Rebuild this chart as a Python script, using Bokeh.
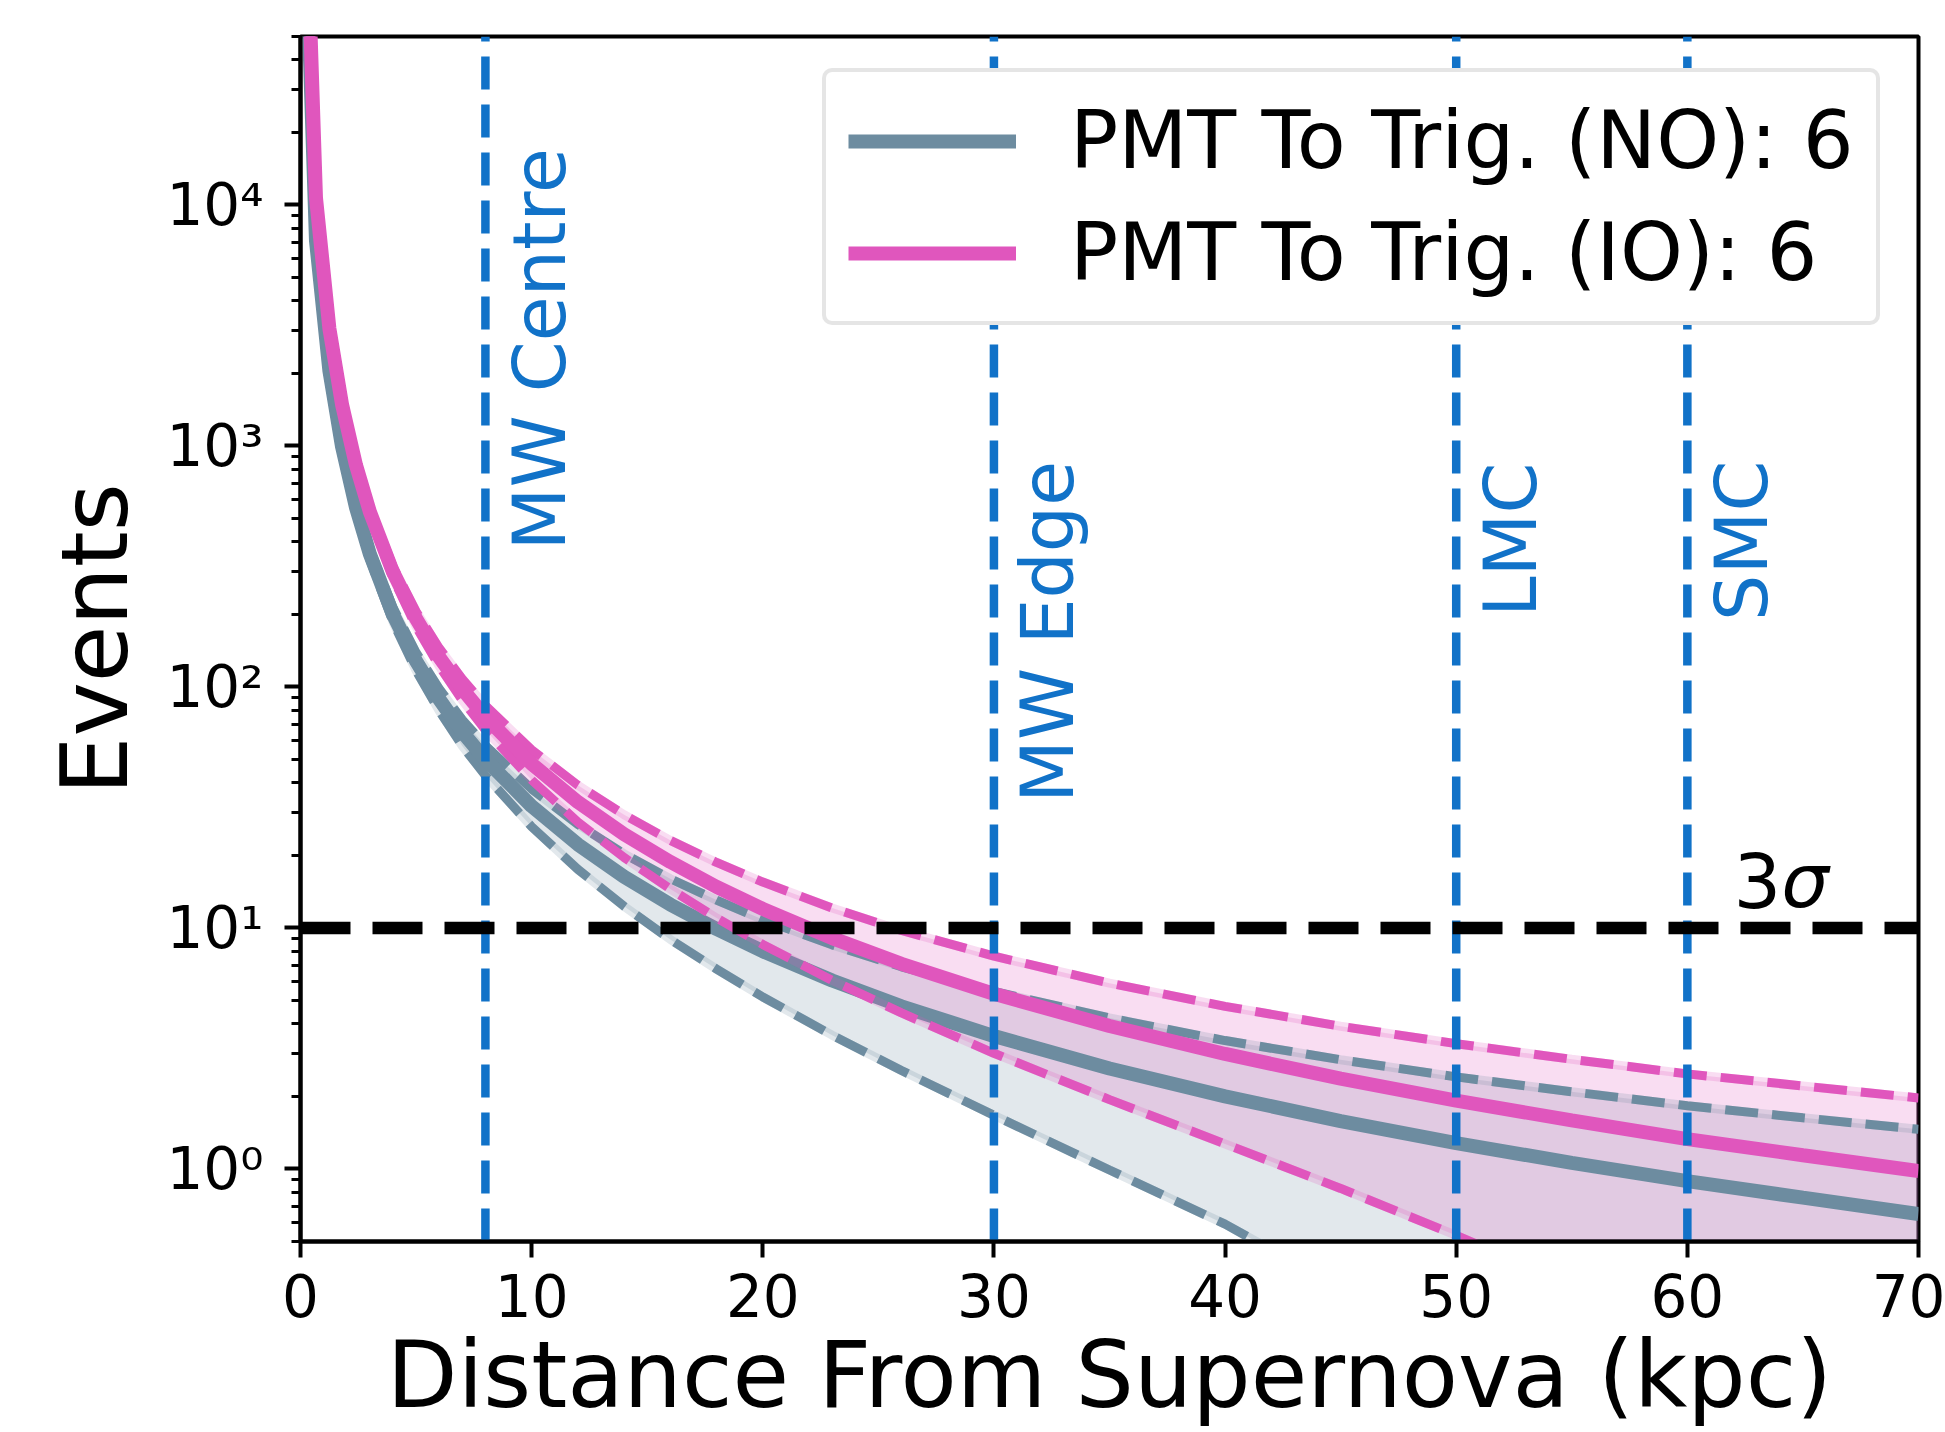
import numpy as np
from bokeh.plotting import figure
from bokeh.models import (Range1d, FixedTicker, CustomJSTickFormatter, Legend, LegendItem,
                          ColumnDataSource)
from bokeh.embed import file_html
from bokeh.resources import INLINE
from bokeh.core.properties import value

# ---------------- data ----------------
distance_kpc = [0.1, 0.67, 1.25, 1.8, 2.4, 3, 4, 5, 6, 7, 8, 10, 12, 14, 16, 18, 20,
                23, 26, 30, 35, 40, 45, 50, 55, 60, 65, 70]

events_no = [320000, 7100, 2050, 990, 556, 356, 200, 128, 89, 65, 50, 32, 22.2, 16.3,
             12.5, 9.9, 8.0, 6.05, 4.73, 3.56, 2.61, 2.00, 1.58, 1.28, 1.06, 0.89, 0.76, 0.65]
events_no_upper = [320566, 7184, 2095, 1021, 580, 375, 214, 139, 98.4, 73.1, 57.1, 37.7,
                   26.9, 20.3, 16.0, 13.05, 10.83, 8.51, 6.90, 5.45, 4.23, 3.41, 2.84,
                   2.41, 2.09, 1.83, 1.63, 1.46]
events_no_lower = [319434, 7016, 2005, 958, 532, 337, 186, 117, 79.6, 56.9, 42.9, 26.3,
                   17.5, 12.3, 8.96, 6.75, 5.17, 3.59, 2.56, 1.67, 0.99, 0.59, 0.32,
                   0.15, 0.03, 0.01, 0.01, 0.01]

events_io = [480000, 10700, 3070, 1480, 833, 533, 300, 192, 133, 98, 75, 48, 33.3, 24.5,
             18.8, 14.8, 12.0, 9.07, 7.10, 5.33, 3.92, 3.00, 2.37, 1.92, 1.59, 1.33, 1.14, 0.98]
events_io_upper = [480693, 10803, 3125, 1518, 862, 556, 317, 206, 145, 108, 83.7, 54.9,
                   39.1, 29.5, 23.1, 18.7, 15.5, 12.1, 9.76, 7.64, 5.90, 4.73, 3.91,
                   3.31, 2.85, 2.48, 2.21, 1.97]
events_io_lower = [479307, 10597, 3015, 1442, 804, 510, 283, 178, 122, 88.1, 66.3, 41.1,
                   27.5, 19.6, 14.5, 11.0, 8.54, 6.06, 4.44, 3.02, 1.94, 1.27, 0.83,
                   0.53, 0.33, 0.18, 0.07, 0.01]

series_labels = ["PMT To Trig. (NO): 6", "PMT To Trig. (IO): 6"]

landmark_x = [8, 30, 50, 60]
landmark_labels = ["MW Centre", "MW Edge", "LMC", "SMC"]
landmark_label_y = [368, 33, 195, 188]

threshold_events = 10
threshold_label_pos = (62, 12)

x_ticks = [0, 10, 20, 30, 40, 50, 60, 70]
y_ticks = [1, 10, 100, 1000, 10000]

x_min, x_max = 0, 70
y_min, y_max = 0.5, 5e4

x_title = "Distance From Supernova (kpc)"
y_title = "Events"

# ---------------- styling ----------------
FONT = "DejaVu Sans"
C_NO = "#6d8ca0"
C_IO = "#e056bd"
C_MARK = "#1172c8"

y_minor_ticks = [k * 10.0 ** e for e in range(-1, 5) for k in range(2, 10)
                 if y_min <= k * 10.0 ** e <= y_max]

p = figure(width=1945, height=1432,
           x_range=Range1d(x_min, x_max), y_range=Range1d(y_min, y_max),
           y_axis_type="log", output_backend="svg", toolbar_location=None,
           min_border_left=300, min_border_right=27, min_border_top=36,
           min_border_bottom=191)
p.xgrid.visible = False
p.ygrid.visible = False
p.outline_line_color = "black"
p.outline_line_width = 4
p.outline_line_alpha = 1.0
p.background_fill_color = "white"
p.border_fill_color = "white"

for ax in (p.xaxis[0], p.yaxis[0]):
    ax.axis_line_width = 4
    ax.axis_line_color = "black"
    ax.major_tick_line_width = 4
    ax.major_tick_out = 16
    ax.major_tick_in = 0
    ax.minor_tick_line_width = 3
    ax.minor_tick_out = 9
    ax.minor_tick_in = 0
    ax.major_label_text_font = FONT
    ax.major_label_text_font_size = "58px"
    ax.major_label_text_color = "black"
    ax.axis_label_text_font = FONT
    ax.axis_label_text_font_size = "92px"
    ax.axis_label_text_font_style = "normal"
    ax.axis_label_text_color = "black"

p.xaxis.axis_label = x_title
p.yaxis.axis_label = y_title
p.xaxis.ticker = FixedTicker(ticks=x_ticks, minor_ticks=[])
p.yaxis.ticker = FixedTicker(ticks=y_ticks, minor_ticks=y_minor_ticks)
p.yaxis.formatter = CustomJSTickFormatter(code="""
const sup = {"0":"\u2070","1":"\u00b9","2":"\u00b2","3":"\u00b3","4":"\u2074",
             "5":"\u2075","6":"\u2076","7":"\u2077","8":"\u2078","9":"\u2079","-":"\u207b"};
const e = Math.round(Math.log10(tick));
return "10" + String(e).split("").map(c => sup[c]).join("");
""")
p.xaxis.major_label_standoff = 16
p.xaxis.axis_label_standoff = 2
p.yaxis.major_label_standoff = 21
p.yaxis.axis_label_standoff = 14

src = ColumnDataSource(dict(d=distance_kpc,
                            no=events_no, no_up=events_no_upper, no_lo=events_no_lower,
                            io=events_io, io_up=events_io_upper, io_lo=events_io_lower))

# bands
p.varea(x="d", y1="no_lo", y2="no_up", source=src, fill_color=C_NO, fill_alpha=0.2)
p.varea(x="d", y1="io_lo", y2="io_up", source=src, fill_color=C_IO, fill_alpha=0.2)

renderers = []
for col, c in (("no", C_NO), ("io", C_IO)):
    for edge in (col + "_up", col + "_lo"):
        p.line(x="d", y=edge, source=src, line_color=c, line_width=9, line_alpha=0.2)
        p.line(x="d", y=edge, source=src, line_color=c, line_width=9,
               line_dash="33 14")
    r = p.line(x="d", y=col, source=src, line_color=c, line_width=14)
    renderers.append(r)

# landmark vertical lines (drawn from bottom to top)
p.multi_line(xs=[[x, x] for x in landmark_x], ys=[[y_min, y_max] for _ in landmark_x],
             line_color=C_MARK, line_width=8.5, line_dash="33 15")

# 3 sigma threshold
p.line(x=[x_min, x_max], y=[threshold_events, threshold_events], line_color="black",
       line_width=12.5, line_dash="50 22")

# landmark labels (rotated, reading upward)
lsrc = ColumnDataSource(dict(x=landmark_x, y=landmark_label_y, t=landmark_labels))
p.text(x="x", y="y", text="t", source=lsrc, angle=np.pi / 2, x_offset=54,
       text_align="left", text_baseline="alphabetic", text_font=value(FONT),
       text_font_size="73px", text_color=C_MARK)

# 3 sigma label
p.text(x=[threshold_label_pos[0]], y=[threshold_label_pos[1]], text=["3"],
       y_offset=-28, text_align="left", text_baseline="alphabetic",
       text_font=value(FONT), text_font_size="75px", text_color="black")
p.text(x=[threshold_label_pos[0]], y=[threshold_label_pos[1]], text=["\u03c3"],
       x_offset=47.7, y_offset=-28, text_align="left", text_baseline="alphabetic",
       text_font=value(FONT), text_font_style="italic",
       text_font_size="75px", text_color="black")

legend = Legend(items=[LegendItem(label=series_labels[0], renderers=[renderers[0]]),
                       LegendItem(label=series_labels[1], renderers=[renderers[1]])],
                location=(522, 916))
legend.label_text_font = FONT
legend.label_text_font_size = "80px"
legend.label_text_color = "black"
legend.glyph_width = 168
legend.glyph_height = 92
legend.label_height = 92
legend.label_width = 782
legend.label_standoff = 54
legend.spacing = 19
legend.padding = 22
legend.margin = 0
legend.border_line_color = "#cccccc"
legend.border_line_width = 4
legend.background_fill_color = "white"
legend.background_fill_alpha = 1.0
try:
    legend.border_radius = 10
except Exception:
    pass
p.add_layout(legend)

open("out.html", "w", encoding="utf-8").write(file_html(p, INLINE))
